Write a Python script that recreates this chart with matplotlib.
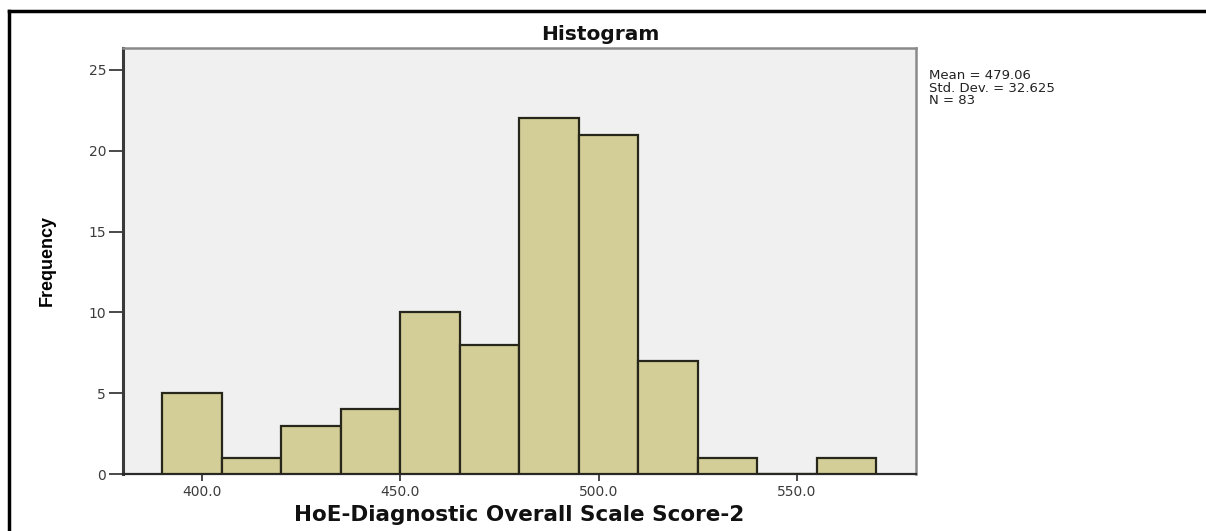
import matplotlib.pyplot as plt
from matplotlib.lines import Line2D

plt.rcParams["font.family"] = ["DejaVu Sans"]

# histogram bins (left edge, width 15) and frequencies
bin_lefts = [390, 405, 420, 435, 450, 465, 480, 495, 510, 525, 540, 555]
counts = [5, 1, 3, 4, 10, 8, 22, 21, 7, 1, 0, 1]
bin_width = 15

x_ticks = [400, 450, 500, 550]
y_ticks = [0, 5, 10, 15, 20, 25]
stats = ["Mean = 479.06", "Std. Dev. = 32.625", "N = 83"]

W, H = 1206, 531
fig = plt.figure(figsize=(W / 100, H / 100), dpi=100)
fig.patch.set_facecolor("white")

# outer frame (only top and left edges fall inside the image)
fig.add_artist(Line2D([8.5 / W, 1.0], [1 - 11 / H, 1 - 11 / H], color="black", lw=2.5,
                      transform=fig.transFigure))
fig.add_artist(Line2D([8.5 / W, 8.5 / W], [0.0, 1 - 11 / H], color="black", lw=2.5,
                      transform=fig.transFigure))

ax = fig.add_axes([122.7 / W, 1 - 474 / H, (915.7 - 122.7) / W, (474 - 48) / H])
ax.set_facecolor("#f0f0f0")

ax.bar(bin_lefts, counts, width=bin_width, align="edge",
       color="#d3ce97", edgecolor="#26261a", linewidth=1.6, zorder=3)

ax.set_xlim(380, 580)
ax.set_ylim(0, 26.36)
ax.set_xticks(x_ticks)
ax.set_xticklabels([f"{v:.1f}" for v in x_ticks])
ax.set_yticks(y_ticks)
ax.set_yticklabels([str(v) for v in y_ticks])

for side in ("top", "right"):
    ax.spines[side].set_color("#8a8a8a")
    ax.spines[side].set_linewidth(1.8)
ax.spines["left"].set_color("#3a3a3a")
ax.spines["left"].set_linewidth(2.2)
ax.spines["bottom"].set_color("#2a2a2a")
ax.spines["bottom"].set_linewidth(1.6)

ax.tick_params(axis="y", length=10, width=1.3, color="#3a3a3a", pad=2,
               labelsize=10, labelcolor="#3c3c3c")
ax.tick_params(axis="x", length=5, width=1.3, color="#3a3a3a", pad=3,
               labelsize=10, labelcolor="#3c3c3c")

ax.set_ylabel("Frequency", fontsize=13, fontweight="bold", family="Liberation Sans")
ax.yaxis.set_label_coords(-0.084, 0.5)
ax.set_xlabel("HoE-Diagnostic Overall Scale Score-2", fontsize=15.5, fontweight="bold",
              color="#111111")
ax.xaxis.set_label_coords(0.5, -0.072)

fig.text(600 / W, 1 - 34 / H, "Histogram", ha="center", va="center",
         fontsize=14.5, fontweight="bold", color="#111111")

for i, line in enumerate(stats):
    fig.text(929 / W, 1 - (76 + 12.5 * i) / H, line, ha="left", va="center",
             fontsize=9.5, color="#222222")

fig.savefig("out.png", dpi=100)
